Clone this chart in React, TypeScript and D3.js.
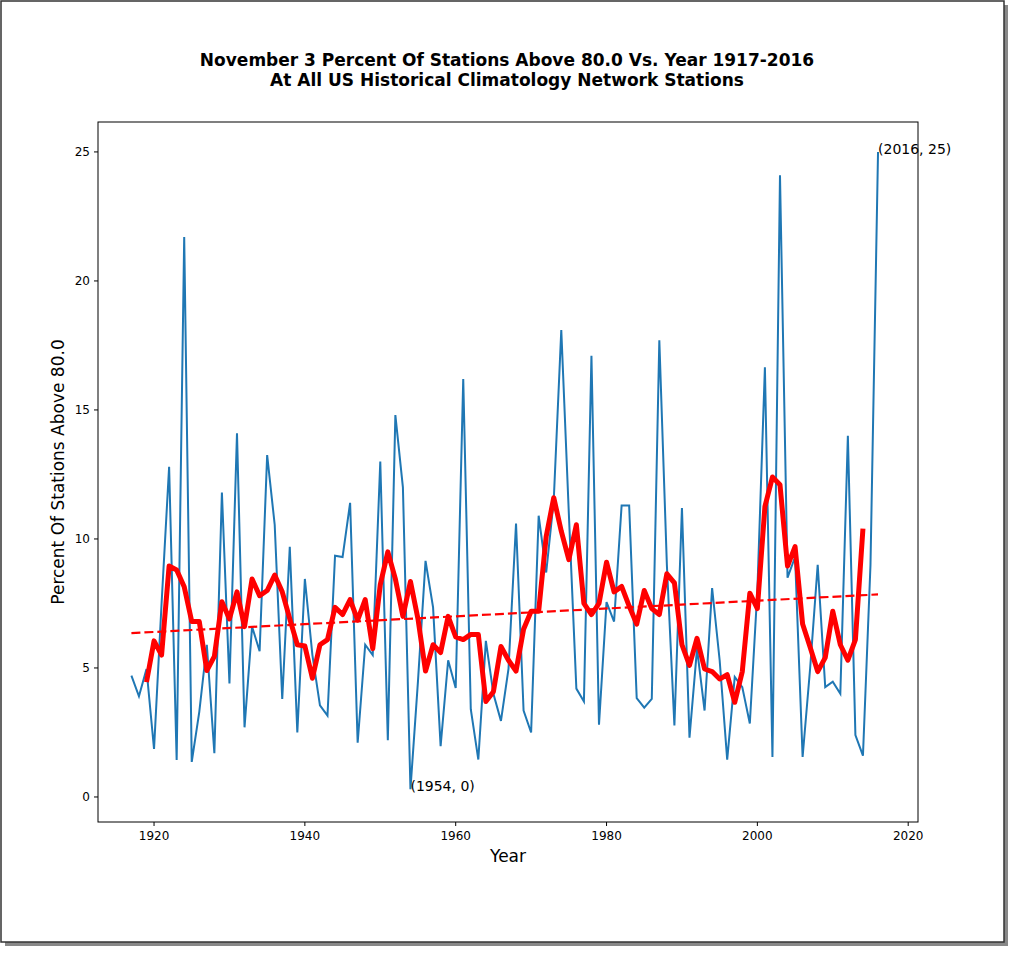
import * as d3 from 'd3'

const years = d3.range(1917, 2017)
const pct = [
  4.7, 3.9, 4.96, 1.86, 7.5, 12.8, 1.43, 21.7, 1.36, 3.3,
  5.9, 1.7, 11.8, 4.4, 14.1, 2.7, 6.6, 5.65, 13.25, 10.55,
  3.8, 9.7, 2.5, 8.45, 5.5, 3.55, 3.15, 9.35, 9.3, 11.4,
  2.1, 5.9, 5.5, 13.0, 2.2, 14.8, 12.0, 0.3, 4.5, 9.15,
  7.35, 1.97, 5.3, 4.22, 16.2, 3.4, 1.45, 6.05, 4.0, 2.95,
  4.96, 10.6, 3.35, 2.5, 10.9, 8.7, 11.5, 18.1, 11.0, 4.2,
  3.7, 17.1, 2.8, 7.55, 6.8, 11.3, 11.3, 3.83, 3.46, 3.8,
  17.7, 9.0, 2.77, 11.2, 2.3, 5.75, 3.35, 8.1, 5.3, 1.45,
  4.65, 4.26, 2.85, 8.0, 16.65, 1.55, 24.1, 8.5, 9.3, 1.55,
  5.0, 9.0, 4.26, 4.47, 4.0, 14.0, 2.4, 1.6, 9.0, 25.0,
]
const avgYears = d3.range(1919, 2015)
const avg = [
  4.45, 6.05, 5.5, 8.95, 8.8, 8.15, 6.8, 6.8, 4.9, 5.45,
  7.57, 6.9, 7.95, 6.6, 8.45, 7.8, 8.0, 8.6, 7.95, 6.9,
  5.9, 5.85, 4.6, 5.9, 6.1, 7.35, 7.07, 7.65, 6.85, 7.65,
  5.75, 8.23, 9.5, 8.45, 7.0, 8.35, 6.9, 4.88, 5.9, 5.6,
  7.0, 6.2, 6.1, 6.3, 6.3, 3.7, 4.08, 5.83, 5.3, 4.88,
  6.5, 7.2, 7.2, 10.1, 11.6, 10.3, 9.2, 10.55, 7.5, 7.07,
  7.5, 9.1, 7.95, 8.16, 7.4, 6.7, 8.0, 7.3, 7.07, 8.65,
  8.3, 5.9, 5.1, 6.15, 4.96, 4.86, 4.57, 4.74, 3.67, 4.86,
  7.9, 7.3, 11.25, 12.4, 12.1, 8.95, 9.7, 6.7, 5.8, 4.86,
  5.4, 7.2, 5.9, 5.3, 6.1, 10.4,
]
const trendYears = [1917, 2016]
const trendVals = [6.35, 7.85]
const xTicks = [1920, 1940, 1960, 1980, 2000, 2020]
const yTicks = [0, 5, 10, 15, 20, 25]

const W = 1024
const H = 953
const L = 98, R = 918, T = 122, B = 822
const font = 'DejaVu Sans, sans-serif'

export default function App() {
  const x = d3.scaleLinear().domain([1912.57, 2021.3]).range([L, R])
  const y = d3.scaleLinear().domain([-0.97, 26.16]).range([B, T])
  const line = d3.line<[number, number]>().x((d) => x(d[0])).y((d) => y(d[1]))
  const blue = line(years.map((yr, i) => [yr, pct[i]]))
  const red = line(avgYears.map((yr, i) => [yr, avg[i]]))
  const trend = line(trendYears.map((yr, i) => [yr, trendVals[i]]))

  return (
    <svg width={W} height={H} style={{ position: 'absolute', left: 0, top: 0, background: '#fff' }}>
      <defs>
        <clipPath id="plot">
          <rect x={L} y={T} width={R - L} height={B - T} />
        </clipPath>
      </defs>
      {/* frame */}
      <rect x={5} y={5} width={1003} height={941} fill="#888" />
      <rect x={1} y={1} width={1003} height={941} fill="#fff" stroke="#333" strokeWidth={1.5} />
      <g fontFamily={font} fill="#000">
        <text x={507} y={66} textAnchor="middle" fontSize={17} fontWeight="bold">
          November 3 Percent Of Stations Above 80.0 Vs. Year 1917-2016
        </text>
        <text x={507} y={86} textAnchor="middle" fontSize={17} fontWeight="bold">
          At All US Historical Climatology Network Stations
        </text>
      </g>
      <g clipPath="url(#plot)">
        <path d={blue ?? ''} fill="none" stroke="#1f77b4" strokeWidth={2} />
        <path d={trend ?? ''} fill="none" stroke="#ff0000" strokeWidth={2.2} strokeDasharray="9,4" />
        <path d={red ?? ''} fill="none" stroke="#ff0000" strokeWidth={5} strokeLinejoin="round" />
      </g>
      <rect x={L} y={T} width={R - L} height={B - T} fill="none" stroke="#000" strokeWidth={1} />
      <g fontFamily={font} fontSize={12} fill="#000">
        {xTicks.map((t) => (
          <g key={t}>
            <line x1={x(t)} x2={x(t)} y1={B} y2={B + 4} stroke="#000" />
            <text x={x(t)} y={B + 18} textAnchor="middle">{t}</text>
          </g>
        ))}
        {yTicks.map((t) => (
          <g key={t}>
            <line x1={L - 4} x2={L} y1={y(t)} y2={y(t)} stroke="#000" />
            <text x={L - 8} y={y(t) + 4} textAnchor="end">{t}</text>
          </g>
        ))}
      </g>
      <g fontFamily={font} fontSize={17} fill="#000">
        <text x={(L + R) / 2} y={862} textAnchor="middle">Year</text>
        <text transform={`translate(64,${(T + B) / 2}) rotate(-90)`} textAnchor="middle">
          Percent Of Stations Above 80.0
        </text>
      </g>
      <g fontFamily={font} fontSize={14} fill="#000">
        <text x={x(2016)} y={y(25) + 2}>(2016, 25)</text>
        <text x={x(1954)} y={y(0.3) + 2}>(1954, 0)</text>
      </g>
    </svg>
  )
}
